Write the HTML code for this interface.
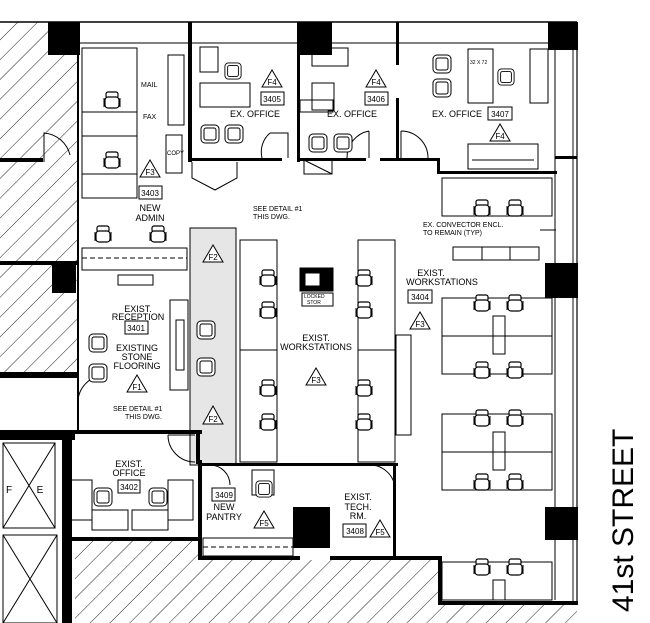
<!DOCTYPE html>
<html><head><meta charset="utf-8"><style>
html,body{margin:0;padding:0;background:#fff;}
svg{display:block;font-family:"Liberation Sans",sans-serif;}
</style></head><body>
<svg width="650" height="623" viewBox="0 0 650 623" xmlns="http://www.w3.org/2000/svg">
<defs>
<pattern id="h" width="14" height="14" patternUnits="userSpaceOnUse" patternTransform="rotate(45)">
<line x1="0" y1="0" x2="0" y2="14" stroke="#222" stroke-width="1"/>
</pattern>
<symbol id="ch" viewBox="0 0 20 20"><rect x="4" y="2" width="12" height="6" rx="2" fill="#fff" stroke="#000" stroke-width="1.2"/><rect x="3" y="7" width="14" height="11" rx="3" fill="#fff" stroke="#000" stroke-width="1.2"/><line x1="2" y1="8" x2="2" y2="17" stroke="#000"/><line x1="18" y1="8" x2="18" y2="17" stroke="#000"/></symbol>
<symbol id="ac" viewBox="0 0 20 20"><rect x="1" y="1" width="18" height="18" rx="4" fill="#fff" stroke="#000"/><rect x="4" y="4" width="12" height="12" rx="2" fill="none" stroke="#000"/></symbol>
</defs>
<g fill="none" stroke="#000">
<polygon points="0,22 78,22 78,430 0,430" fill="url(#h)" stroke="none"/>
<rect x="0" y="378" width="78" height="55" fill="#fff" stroke="none"/>
<polygon points="75,540 440,540 440,603 577,603 577,623 75,623" fill="url(#h)" stroke="none"/>
<rect x="200" y="540" width="240" height="20" fill="#fff" stroke="none"/>
<rect x="190" y="228" width="46" height="237" fill="#e6e6e6" stroke="#000"/>
<line x1="0" y1="22" x2="577" y2="22" stroke-width="1.5"/>
<line x1="78" y1="43" x2="560" y2="43"/>
<line x1="573" y1="22" x2="573" y2="603" stroke="#888" stroke-width="2"/>
<line x1="577" y1="22" x2="577" y2="603" stroke-width="1.2"/>
<line x1="555" y1="43" x2="555" y2="600"/>
<line x1="78" y1="55" x2="78" y2="430" stroke-width="2"/>
<g fill="#000" stroke="none">
<rect x="48" y="22" width="32" height="33"/>
<rect x="297" y="22" width="35" height="33"/>
<rect x="548" y="22" width="30" height="28"/>
<rect x="545" y="263" width="33" height="35"/>
<rect x="545" y="507" width="33" height="33"/>
<rect x="52" y="265" width="24" height="28"/>
<rect x="293" y="507" width="37" height="41"/>
<rect x="0" y="158" width="43" height="4"/>
<rect x="0" y="261" width="78" height="4"/>
<rect x="0" y="372" width="78" height="6"/>
<rect x="0" y="430" width="75" height="10"/>
<rect x="62" y="430" width="10" height="193"/>
<rect x="72" y="537" width="130" height="4"/>
<rect x="198" y="460" width="4" height="100"/>
<rect x="198" y="556" width="102" height="4"/>
<rect x="330" y="556" width="112" height="4"/>
<rect x="438" y="556" width="4" height="49"/>
<rect x="438" y="601" width="140" height="4"/>
<rect x="62" y="430" width="140" height="4"/>
<rect x="196" y="434" width="4" height="30"/>
<rect x="198" y="463" width="200" height="3"/>
<rect x="393" y="463" width="3" height="97"/>
<rect x="188" y="22" width="4" height="140"/>
<rect x="188" y="158" width="94" height="3"/>
<rect x="297" y="50" width="3" height="112"/>
<rect x="300" y="158" width="66" height="3"/>
<rect x="396" y="22" width="3" height="43"/>
<rect x="396" y="98" width="3" height="63"/>
<rect x="380" y="158" width="60" height="3"/>
<rect x="437" y="158" width="3" height="15"/>
<rect x="437" y="171" width="120" height="3"/>
<rect x="555" y="156" width="22" height="3"/>
</g>
<rect x="3" y="443" width="52" height="85"/>
<line x1="3" y1="443" x2="55" y2="528"/><line x1="55" y1="443" x2="3" y2="528"/>
<rect x="3" y="535" width="54" height="88"/>
<line x1="3" y1="535" x2="57" y2="623"/><line x1="57" y1="535" x2="3" y2="623"/>
<rect x="82" y="48" width="55" height="88"/>
<rect x="82" y="136" width="55" height="62"/>
<line x1="82" y1="112" x2="137" y2="112"/><line x1="82" y1="174" x2="137" y2="174"/>
<rect x="168" y="55" width="16" height="70"/>
<rect x="166" y="135" width="16" height="38"/>
<rect x="82" y="248" width="105" height="22"/>
<line x1="82" y1="258" x2="187" y2="258" stroke-dasharray="5,3"/>
<rect x="118" y="275" width="35" height="10"/>
<rect x="200" y="47" width="18" height="25"/>
<rect x="200" y="83" width="50" height="24"/>
<rect x="312" y="48" width="36" height="18"/>
<rect x="312" y="83" width="22" height="27"/>
<rect x="300" y="100" width="33" height="12"/>
<rect x="468" y="49" width="25" height="54"/>
<rect x="530" y="49" width="18" height="54"/>
<rect x="468" y="144" width="70" height="25"/>
<line x1="472" y1="160" x2="534" y2="160"/>
<rect x="304" y="160" width="28" height="14"/>
<line x1="304" y1="160" x2="332" y2="174"/>
<rect x="442" y="178" width="110" height="38"/>
<rect x="453" y="247" width="86" height="13"/>
<line x1="482" y1="247" x2="482" y2="260"/><line x1="510" y1="247" x2="510" y2="260"/>
<line x1="540" y1="230" x2="556" y2="230"/>
<rect x="442" y="298" width="110" height="38"/>
<rect x="442" y="336" width="110" height="38"/>
<rect x="442" y="414" width="110" height="38"/>
<rect x="442" y="452" width="110" height="38"/>
<rect x="442" y="562" width="110" height="38"/>
<rect x="493" y="316" width="12" height="38"/>
<rect x="493" y="432" width="12" height="38"/>
<rect x="493" y="580" width="12" height="20"/>
<rect x="396" y="335" width="15" height="100"/>
<rect x="240" y="240" width="37" height="110"/>
<rect x="240" y="350" width="37" height="112"/>
<rect x="358" y="240" width="37" height="110"/>
<rect x="358" y="350" width="37" height="112"/>
<rect x="300" y="268" width="33" height="23" fill="#000"/>
<rect x="305" y="273" width="15" height="13" fill="#fff"/>
<rect x="302" y="293" width="31" height="13"/>
<rect x="170" y="300" width="18" height="90"/>
<rect x="176" y="320" width="8" height="50"/>
<rect x="67" y="480" width="25" height="40"/>
<rect x="168" y="480" width="25" height="40"/>
<rect x="92" y="510" width="36" height="20"/><rect x="132" y="510" width="36" height="20"/>
<rect x="203" y="538" width="90" height="18"/>
<line x1="203" y1="547" x2="293" y2="547" stroke-dasharray="5,3"/>
<rect x="252" y="470" width="22" height="25"/>
<path d="M44 162 L44 133 A29 29 0 0 1 70 155"/>
<path d="M270 133 L288 133 L288 158 M270 133 A25 25 0 0 0 262 158"/>
<path d="M369 131 L369 158 M369 131 A27 27 0 0 0 347 158"/>
<path d="M401 131 L401 158 M401 131 A27 27 0 0 1 428 158"/>
<path d="M78 400 A28 28 0 0 1 106 375"/>
<path d="M168 435 L195 435 M195 462 A27 27 0 0 1 168 435"/>
<path d="M370 465 A25 25 0 0 1 395 490"/>
<path d="M210 465 A20 20 0 0 1 230 485"/>
<path d="M192 162 L192 178 L215 190 L237 178 L237 162"/>
</g>
<g>
<use href="#ch" x="102" y="90" width="20" height="20"/>
<use href="#ch" x="102" y="150" width="20" height="20"/>
<use href="#ch" x="93" y="224" width="20" height="20"/>
<use href="#ch" x="148" y="224" width="20" height="20"/>
<use href="#ac" x="224" y="62" width="18" height="18"/>
<use href="#ac" x="200" y="124" width="20" height="20"/>
<use href="#ac" x="224" y="124" width="20" height="20"/>
<use href="#ac" x="308" y="133" width="20" height="20"/>
<use href="#ac" x="333" y="133" width="20" height="20"/>
<use href="#ac" x="432" y="54" width="20" height="20"/>
<use href="#ac" x="432" y="78" width="20" height="20"/>
<use href="#ac" x="497" y="68" width="18" height="18"/>
<use href="#ac" x="196" y="320" width="20" height="20"/>
<use href="#ac" x="196" y="357" width="20" height="20"/>
<use href="#ac" x="88" y="333" width="20" height="20"/>
<use href="#ac" x="88" y="363" width="20" height="20"/>
<use href="#ac" x="93" y="487" width="20" height="20"/>
<use href="#ac" x="148" y="487" width="20" height="20"/>
<use href="#ch" x="472" y="198" width="20" height="20"/>
<use href="#ch" x="505" y="198" width="20" height="20"/>
<use href="#ch" x="472" y="293" width="20" height="20"/>
<use href="#ch" x="505" y="293" width="20" height="20"/>
<use href="#ch" x="472" y="360" width="20" height="20"/>
<use href="#ch" x="505" y="360" width="20" height="20"/>
<use href="#ch" x="472" y="408" width="20" height="20"/>
<use href="#ch" x="505" y="408" width="20" height="20"/>
<use href="#ch" x="472" y="472" width="20" height="20"/>
<use href="#ch" x="505" y="472" width="20" height="20"/>
<use href="#ch" x="472" y="557" width="20" height="20"/>
<use href="#ch" x="505" y="557" width="20" height="20"/>
<use href="#ch" x="258" y="268" width="20" height="20"/>
<use href="#ch" x="258" y="300" width="20" height="20"/>
<use href="#ch" x="258" y="378" width="20" height="20"/>
<use href="#ch" x="258" y="412" width="20" height="20"/>
<use href="#ch" x="354" y="268" width="20" height="20"/>
<use href="#ch" x="354" y="300" width="20" height="20"/>
<use href="#ch" x="354" y="378" width="20" height="20"/>
<use href="#ch" x="354" y="412" width="20" height="20"/>
<use href="#ac" x="255" y="480" width="18" height="18"/>
</g>
<g fill="#fff" stroke="#000">
<polygon points="272,70 262,87 282,87"/><rect x="261" y="92" width="23" height="13"/>
<polygon points="376,70 366,87 386,87"/><rect x="365" y="92" width="23" height="13"/>
<rect x="488" y="107" width="24" height="13"/><polygon points="500,124 490,141 510,141"/>
<polygon points="150,160 140,177 160,177"/><rect x="139" y="186" width="23" height="13"/>
<polygon points="213,245 203,262 223,262"/>
<polygon points="213,406 203,424 223,424"/>
<rect x="408" y="290" width="24" height="13"/><polygon points="420,312 410,329 430,329"/>
<rect x="125" y="321" width="23" height="13"/><polygon points="137,375 127,392 147,392"/>
<polygon points="316,368 306,385 326,385"/>
<rect x="118" y="480" width="22" height="13"/>
<rect x="212" y="488" width="23" height="13"/><polygon points="264,511 254,528 274,528"/>
<rect x="343" y="524" width="23" height="13"/><polygon points="380,520 370,537 390,537"/>
</g>
<g font-size="8" text-anchor="middle" fill="#000">
<text x="272" y="85">F4</text><text x="272" y="102">3405</text>
<text x="376" y="85">F4</text><text x="376" y="102">3406</text>
<text x="500" y="117">3407</text><text x="500" y="139">F4</text>
<text x="150" y="175">F3</text><text x="150" y="196">3403</text>
<text x="213" y="260">F2</text><text x="213" y="422">F2</text>
<text x="420" y="300">3404</text><text x="420" y="327">F3</text>
<text x="136" y="331">3401</text><text x="137" y="390">F1</text>
<text x="316" y="383">F3</text>
<text x="129" y="490">3402</text>
<text x="224" y="498">3409</text><text x="264" y="526">F5</text>
<text x="355" y="534">3408</text><text x="380" y="535">F5</text>
</g>
<g font-size="9" text-anchor="middle" fill="#000">
<text x="255" y="117">EX. OFFICE</text>
<text x="352" y="117">EX. OFFICE</text>
<text x="457" y="117">EX. OFFICE</text>
<text x="150" y="211">NEW</text><text x="150" y="221">ADMIN</text>
<text x="431" y="276">EXIST.</text><text x="442" y="285">WORKSTATIONS</text>
<text x="138" y="312">EXIST.</text><text x="138" y="320">RECEPTION</text>
<text x="137" y="351">EXISTING</text><text x="137" y="360">STONE</text><text x="137" y="369">FLOORING</text>
<text x="316" y="341">EXIST.</text><text x="316" y="350">WORKSTATIONS</text>
<text x="129" y="467">EXIST.</text><text x="129" y="476">OFFICE</text>
<text x="224" y="510">NEW</text><text x="224" y="520">PANTRY</text>
<text x="358" y="500">EXIST.</text><text x="358" y="510">TECH.</text><text x="358" y="519">RM.</text>
<text x="9" y="493" font-size="10">F</text><text x="40" y="493" font-size="10">E</text>
</g>
<g font-size="7" fill="#000">
<text x="253" y="211">SEE DETAIL #1</text><text x="253" y="219">THIS DWG.</text>
<text x="113" y="411">SEE DETAIL #1</text><text x="125" y="419">THIS DWG.</text>
<text x="423" y="227">EX. CONVECTOR ENCL.</text><text x="423" y="235">TO REMAIN (TYP)</text>
<text x="141" y="87">MAIL</text><text x="143" y="119">FAX</text>
<text x="167" y="155" font-size="6">COPY</text>
<text x="470" y="64" font-size="5">32 X 72</text>
<text x="304" y="298" font-size="5">LOCKED</text><text x="307" y="304" font-size="5">STOR</text>
</g>
<text transform="translate(633,612) rotate(-90)" font-size="30" fill="#000">41st STREET</text>
</svg>
</body></html>
